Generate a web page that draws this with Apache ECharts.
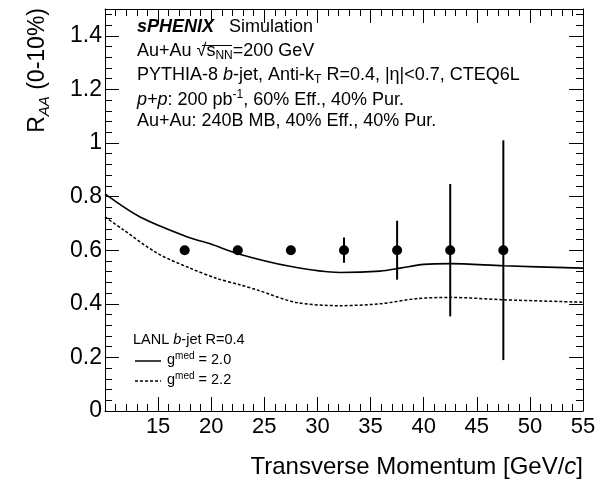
<!DOCTYPE html>
<html>
<head>
<meta charset="utf-8">
<script src="https://cdn.jsdelivr.net/npm/echarts@6/dist/echarts.min.js"></script>
<style>
  html, body { margin: 0; padding: 0; background: #fff; }
  #chart { width: 605px; height: 482px; }
</style>
</head>
<body>
<div id="chart"></div>
<script>
// Projected b-jet R_AA points (0-10% central Au+Au) with statistical errors
const ptBins = [17.5, 22.5, 27.5, 32.5, 37.5, 42.5, 47.5];
const raaValues = [0.6, 0.6, 0.6, 0.6, 0.6, 0.6, 0.6];
const raaErrors = [0.008, 0.01, 0.012, 0.047, 0.11, 0.247, 0.41];

// LANL b-jet R=0.4 calculation, g^med = 2.0 (solid)
const gmed20Pt  = [10.0, 13.3, 18.0, 19.9, 22.5, 27.4, 32.1, 35.9, 37.8, 40.0, 42.5, 47.5, 55.0];
const gmed20Raa = [0.810, 0.724, 0.646, 0.624, 0.587, 0.540, 0.517, 0.522, 0.533, 0.547, 0.550, 0.542, 0.533];

// LANL b-jet R=0.4 calculation, g^med = 2.2 (dashed)
const gmed22Pt  = [10.0, 11.7, 14.9, 18.0, 20.5, 22.7, 24.3, 28.0, 32.1, 35.9, 39.3, 42.5, 47.5, 55.0];
const gmed22Raa = [0.724, 0.677, 0.589, 0.533, 0.495, 0.471, 0.452, 0.405, 0.393, 0.400, 0.419, 0.424, 0.415, 0.406];

const FONT = '"Liberation Sans", Arial, Helvetica, sans-serif';

const chart = echarts.init(document.getElementById('chart'), null, { renderer: 'canvas' });

const zip = (xs, ys) => xs.map((x, i) => [x, ys[i]]);

const frameLine = { show: true, onZero: false, lineStyle: { color: '#000', width: 1 } };
const majorTick = { show: true, inside: true, length: 14, lineStyle: { color: '#000', width: 1 } };
const minorTick = { show: true, splitNumber: 5, length: 7, lineStyle: { color: '#000', width: 1 } };

const xBase = { type: 'value', min: 10, max: 55, interval: 5, splitLine: { show: false },
  axisLine: frameLine, axisTick: majorTick, minorTick: minorTick };
const yBase = { type: 'value', min: 0, max: 1.5, interval: 0.2, splitLine: { show: false },
  axisLine: frameLine, axisTick: majorTick, minorTick: minorTick };

// Rich-text styles shared by the caption lines
const capSize = 18;
const capRich = {
  n:   { fontFamily: FONT, fontSize: capSize, lineHeight: 22, color: '#000' },
  i:   { fontFamily: FONT, fontSize: capSize, lineHeight: 22, color: '#000', fontStyle: 'italic' },
  b:   { fontFamily: FONT, fontSize: capSize, lineHeight: 22, color: '#000', fontStyle: 'italic', fontWeight: 'bold' },
  sub: { fontFamily: FONT, fontSize: 12, lineHeight: 12, color: '#000', verticalAlign: 'bottom' },
  sup: { fontFamily: FONT, fontSize: 12, lineHeight: 12, color: '#000', verticalAlign: 'top' }
};

const captionLines = [
  '{b|sPHENIX}{n|   Simulation}',
  '{n|Au+Au √}{n|s}{sub|NN}{n|=200 GeV}',
  '{n|PYTHIA-8 }{i|b}{n|-jet, Anti-k}{sub|T}{n| R=0.4, |η|<0.7, CTEQ6L}',
  '{i|p+p}{n|: 200 pb}{sup|-1}{n|, 60% Eff., 40% Pur.}',
  '{n|Au+Au: 240B MB, 40% Eff., 40% Pur.}'
];
const captionY = [29, 53, 77, 100, 123];

const legRich = {
  n:   { fontFamily: FONT, fontSize: 14.5, lineHeight: 18, color: '#000' },
  i:   { fontFamily: FONT, fontSize: 14.5, lineHeight: 18, color: '#000', fontStyle: 'italic' },
  sup: { fontFamily: FONT, fontSize: 10, lineHeight: 10, color: '#000', verticalAlign: 'top' }
};

const graphics = [];
captionLines.forEach((t, k) => {
  graphics.push({ type: 'text', left: 137, top: captionY[k] - 11,
    style: { text: t, rich: capRich, fill: '#000' } });
});
// vinculum of the square root over s_NN
graphics.push({ type: 'line', shape: { x1: 202, y1: 45.5, x2: 232, y2: 45.5 },
  style: { stroke: '#000', lineWidth: 1 } });

// legend block
graphics.push({ type: 'text', left: 133, top: 332,
  style: { text: '{n|LANL }{i|b}{n|-jet R=0.4}', rich: legRich } });
graphics.push({ type: 'line', shape: { x1: 135, y1: 361, x2: 161, y2: 361 },
  style: { stroke: '#000', lineWidth: 1.5 } });
graphics.push({ type: 'line', shape: { x1: 135, y1: 381, x2: 161, y2: 381 },
  style: { stroke: '#000', lineWidth: 1.5, lineDash: [3, 2] } });
graphics.push({ type: 'text', left: 167, top: 351,
  style: { text: '{n|g}{sup|med}{n| = 2.0}', rich: legRich } });
graphics.push({ type: 'text', left: 167, top: 371,
  style: { text: '{n|g}{sup|med}{n| = 2.2}', rich: legRich } });

// axis titles
graphics.push({ type: 'text', right: 22, top: 455,
  style: { text: '{n|Transverse Momentum [GeV/}{i|c}{n|]}',
    rich: {
      n: { fontFamily: FONT, fontSize: 24, color: '#000' },
      i: { fontFamily: FONT, fontSize: 24, color: '#000', fontStyle: 'italic' }
    } } });
graphics.push({ type: 'text', x: 38, y: 8, rotation: Math.PI / 2,
  style: { text: '{n|R}{sub|AA}{n| (0-10%)}', align: 'right', verticalAlign: 'middle',
    rich: {
      n: { fontFamily: FONT, fontSize: 23, lineHeight: 28, color: '#000' },
      sub: { fontFamily: FONT, fontSize: 15, lineHeight: 16, color: '#000', fontStyle: 'italic', verticalAlign: 'bottom' }
    } } });

chart.setOption({
  animation: false,
  backgroundColor: '#fff',
  grid: { left: 105, right: 22, top: 9, bottom: 71, containLabel: false },
  xAxis: [
    Object.assign({}, xBase, { position: 'bottom',
      axisLabel: { showMinLabel: false, fontFamily: FONT, fontSize: 22, color: '#000', margin: 5 } }),
    Object.assign({}, xBase, { position: 'top', axisLabel: { show: false } })
  ],
  yAxis: [
    Object.assign({}, yBase, { position: 'left',
      axisLabel: { showMaxLabel: false, fontFamily: FONT, fontSize: 23, color: '#000', margin: 3 } }),
    Object.assign({}, yBase, { position: 'right', axisLabel: { show: false } })
  ],
  graphic: graphics,
  series: [
    {
      type: 'line', name: 'gmed20', data: zip(gmed20Pt, gmed20Raa),
      showSymbol: false, symbol: 'none', smooth: 0.3,
      lineStyle: { color: '#000', width: 1.6 }, z: 2
    },
    {
      type: 'line', name: 'gmed22', data: zip(gmed22Pt, gmed22Raa),
      showSymbol: false, symbol: 'none', smooth: 0.3,
      lineStyle: { color: '#000', width: 1.5, type: [3, 2] }, z: 2
    },
    {
      type: 'custom', name: 'errors',
      data: ptBins.map((x, i) => [x, raaValues[i] - raaErrors[i], raaValues[i] + raaErrors[i]]),
      renderItem: function (params, api) {
        const lo = api.coord([api.value(0), api.value(1)]);
        const hi = api.coord([api.value(0), api.value(2)]);
        return { type: 'line', shape: { x1: lo[0], y1: lo[1], x2: hi[0], y2: hi[1] },
          style: { stroke: '#000', lineWidth: 2 } };
      },
      z: 3
    },
    {
      type: 'scatter', name: 'raa', data: zip(ptBins, raaValues),
      symbol: 'circle', symbolSize: 10, itemStyle: { color: '#000', opacity: 1 }, z: 4
    }
  ]
});
</script>
</body>
</html>
